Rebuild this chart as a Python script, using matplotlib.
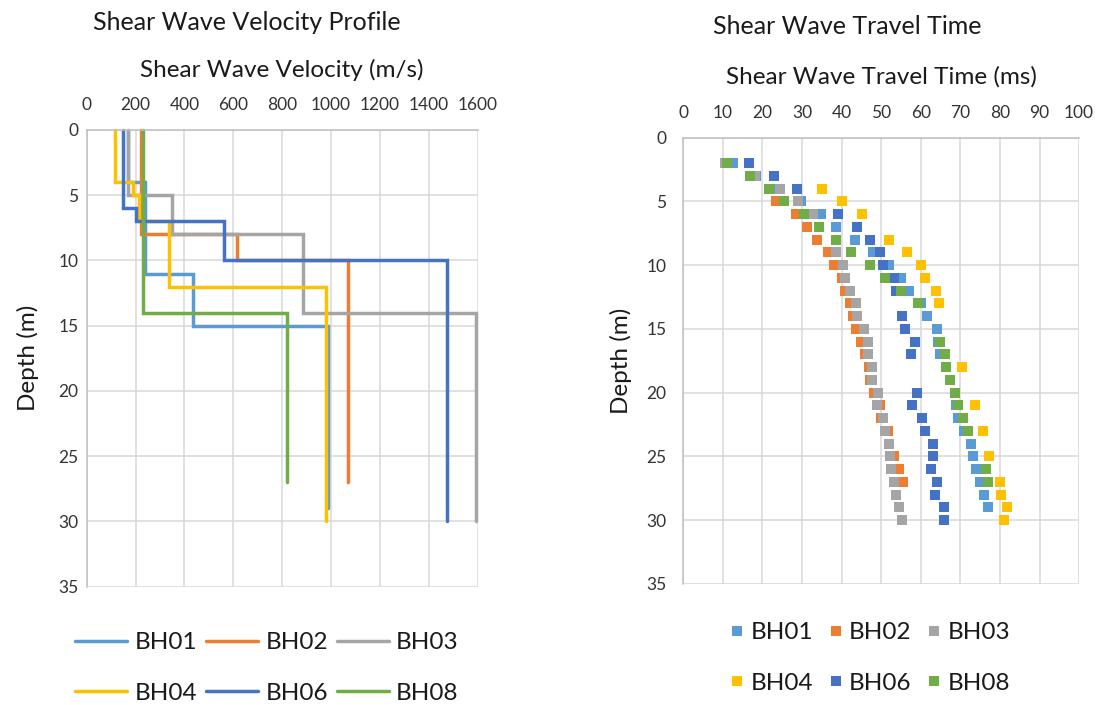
import numpy as np
import matplotlib
matplotlib.use("Agg")
import matplotlib.pyplot as plt

plt.rcParams['font.family'] = ['Lato', 'DejaVu Sans']

nan = np.nan

# ---- Shear wave velocity profiles: layer boundaries (m) and Vs (m/s) ----
bh01_bounds = [0, 4, 11, 15, 29]
bh01_vs = [170, 238, 436, 988]
bh02_bounds = [0, 8, 10, 27]
bh02_vs = [222, 616, 1068]
bh03_bounds = [0, 5, 8, 14, 30]
bh03_vs = [168, 348, 884, 1592]
bh04_bounds = [0, 4, 5, 7, 12, 30]
bh04_vs = [115, 191, 214, 338, 978]
bh06_bounds = [0, 6, 7, 10, 30]
bh06_vs = [150, 202, 563, 1473]
bh08_bounds = [0, 14, 27]
bh08_vs = [232, 818]

# ---- Shear wave travel times (ms) at 1 m depth intervals ----
tt_depths = list(range(2, 31))
bh01_tt = [12.6, 18.4, 24.1, 29.8, 34.8, 38.6, 43.5, 47.9, 51.9, 55.1, 57.0, 60.2,
           61.6, 64.0, 64.3, 64.8, nan, nan, nan, 69.0, 69.5, 71.0, 72.8, 73.3,
           74.0, 75.0, 76.0, 77.0, nan]
bh02_tt = [nan, nan, nan, 23.4, 28.6, 31.3, 33.7, 36.7, 38.2, 40.2, 41.0, 42.2,
           43.0, 43.7, 44.9, 46.0, 47.0, 47.3, 48.1, 49.6, 50.1, 51.7, 51.9, 53.3,
           54.4, 55.5, nan, nan, nan]
bh03_tt = [10.6, 18.1, 24.5, 29.0, 32.8, nan, nan, 38.5, 40.3, 40.9, 42.2, 43.6,
           43.8, 45.7, 46.6, 46.7, 47.7, 47.8, 49.3, 49.0, 50.5, 51.1, 51.9, 52.2,
           52.6, 53.3, 53.7, 54.4, 55.3]
bh04_tt = [nan, nan, 35.1, 40.2, 45.1, nan, 51.9, 56.5, 60.0, 61.0, 63.9, 64.5,
           nan, nan, nan, nan, 70.4, nan, nan, 73.8, nan, 75.8, nan, 77.2,
           nan, 79.9, 80.4, 81.7, 81.1]
bh06_tt = [16.6, 23.0, 28.7, nan, 39.1, 44.0, 47.3, 49.8, 50.5, 53.3, 53.8, nan,
           55.4, 56.1, 58.6, 57.6, nan, nan, 59.1, 57.8, 60.3, 61.0, 63.1, 63.2,
           62.6, 64.0, 63.7, 65.8, 65.8]
bh08_tt = [11.2, 17.0, 21.6, 25.6, 30.5, 34.4, 38.6, 42.3, 47.1, 51.1, 55.1, 59.4,
           nan, nan, 64.9, 66.1, 66.3, 67.5, 68.6, 69.3, 70.6, 72.0, nan, nan,
           76.5, 77.0, nan, nan, nan]

names = ["BH01", "BH02", "BH03", "BH04", "BH06", "BH08"]
colors = ["#5B9BD5", "#ED7D31", "#A5A5A5", "#FFC000", "#4472C4", "#70AD47"]
profiles = [(bh01_bounds, bh01_vs), (bh02_bounds, bh02_vs), (bh03_bounds, bh03_vs),
            (bh04_bounds, bh04_vs), (bh06_bounds, bh06_vs), (bh08_bounds, bh08_vs)]
travel = [bh01_tt, bh02_tt, bh03_tt, bh04_tt, bh06_tt, bh08_tt]

TEXT = "#1a1a1a"
TICK = "#333333"
GRID = "#D9D9D9"
SPINE = "#BFBFBF"
TITLE_FS = 18
AXTITLE_FS = 17.5
TICK_FS = 12.5
LEG_FS = 17.5

fig = plt.figure(figsize=(10.96, 7.05), dpi=100)
ax1 = fig.add_axes([86.7 / 1096, 1 - 586.7 / 705, 391 / 1096, 456.7 / 705])
ax2 = fig.add_axes([683.1 / 1096, 1 - 584 / 705, 396 / 1096, 446.5 / 705])


def style(ax, ypad):
    ax.set_axisbelow(True)
    ax.grid(True, color=GRID, linewidth=1.1)
    for side in ("right", "bottom"):
        ax.spines[side].set_visible(False)
    for side in ("left", "top"):
        ax.spines[side].set_color(SPINE)
        ax.spines[side].set_linewidth(1.1)
    ax.xaxis.tick_top()
    ax.xaxis.set_label_position("top")
    ax.tick_params(length=0, labelsize=TICK_FS, colors=TICK)
    ax.tick_params(axis="x", pad=12)
    ax.tick_params(axis="y", pad=ypad)
    ax.set_ylim(35, 0)
    ax.set_yticks(range(0, 36, 5))


# ---- Left: velocity step profiles ----
style(ax1, 6)
ax1.set_xlim(0, 1600)
ax1.set_xticks(range(0, 1601, 200))
for (bounds, vs), c, n in zip(profiles, colors, names):
    xs, ys = [], []
    for i, v in enumerate(vs):
        xs += [v, v]
        ys += [bounds[i], bounds[i + 1]]
    ax1.plot(xs, ys, color=c, lw=2.5, solid_capstyle="round",
             solid_joinstyle="miter", label=n, clip_on=False)
ax1.set_xlabel("Shear Wave Velocity (m/s)", fontsize=AXTITLE_FS, color=TEXT, labelpad=14.5)
ax1.set_ylabel("Depth (m)", fontsize=AXTITLE_FS, color=TEXT, labelpad=14)
fig.text(247 / 1096, 1 - 23 / 705, "Shear Wave Velocity Profile", fontsize=TITLE_FS,
         color=TEXT, ha="center", va="center")

# ---- Right: travel time scatter ----
style(ax2, 12)
ax2.set_xlim(0, 100)
ax2.set_xticks(range(0, 101, 10))
for tt, c, n in zip(travel, colors, names):
    ax2.plot(tt, tt_depths, linestyle="none", marker="s", markersize=6.6,
             markeredgewidth=0, color=c, label=n, clip_on=False)
ax2.set_xlabel("Shear Wave Travel Time (ms)", fontsize=AXTITLE_FS, color=TEXT, labelpad=15)
ax2.set_ylabel("Depth (m)", fontsize=AXTITLE_FS, color=TEXT, labelpad=10)
fig.text(847 / 1096, 1 - 27 / 705, "Shear Wave Travel Time", fontsize=TITLE_FS,
         color=TEXT, ha="center", va="center")

# ---- Legends (row-major order in 3 columns) ----
order = [0, 3, 1, 4, 2, 5]
h1, l1 = ax1.get_legend_handles_labels()
fig.legend([h1[i] for i in order], [l1[i] for i in order], ncol=3,
           loc="center", bbox_to_anchor=(267 / 1096, 1 - 668 / 705),
           frameon=False, fontsize=LEG_FS, handlelength=2.15, handletextpad=0.3,
           columnspacing=0.35, labelspacing=1.22, labelcolor=TEXT,
           borderpad=0, borderaxespad=0)
h2, l2 = ax2.get_legend_handles_labels()
fig.legend([h2[i] for i in order], [l2[i] for i in order], ncol=3,
           loc="center", bbox_to_anchor=(870 / 1096, 1 - 658 / 705),
           frameon=False, fontsize=LEG_FS, handlelength=0.6, handletextpad=0.25,
           columnspacing=0.63, labelspacing=1.22, labelcolor=TEXT,
           borderpad=0, borderaxespad=0)

fig.savefig("out.png", dpi=100, facecolor="white")
